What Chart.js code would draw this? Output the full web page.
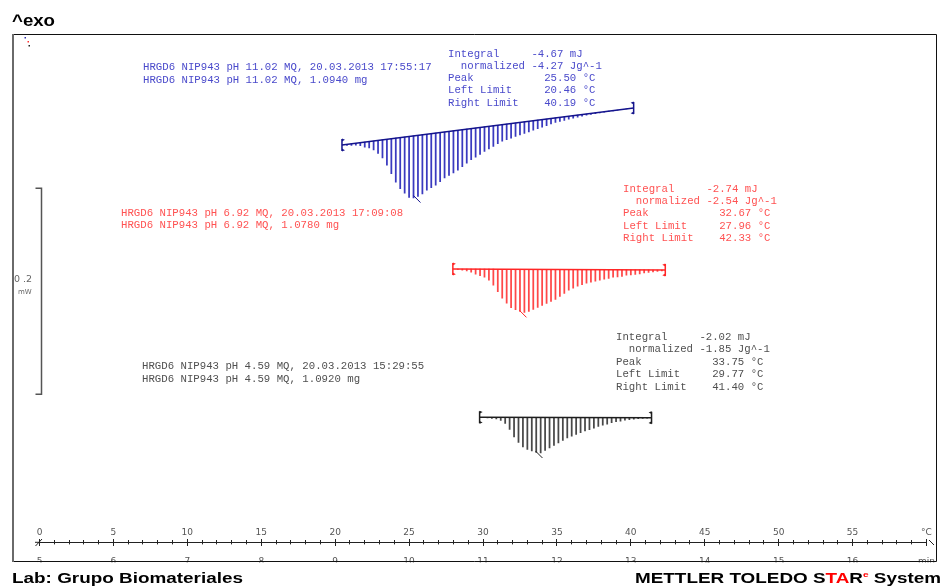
<!DOCTYPE html>
<html>
<head>
<meta charset="utf-8">
<script src="https://cdn.jsdelivr.net/npm/chart.js@4.4.0/dist/chart.umd.min.js"></script>
<style>
  html, body { margin: 0; padding: 0; background: #fff; overflow: hidden; }
  #wrap { position: relative; width: 941px; height: 588px; }
</style>
</head>
<body>
<div id="wrap"><canvas id="dsc" width="941" height="588"></canvas></div>
<script>
// ---- Axis labels -----------------------------------------------------------
const tempTickLabels = ['0', '5', '10', '15', '20', '25', '30', '35', '40', '45', '50', '55', '°C'];
const timeTickLabels = ['5', '6', '7', '8', '9', '10', '11', '12', '13', '14', '15', '16', 'min'];

// ---- Runs (blue = pH 11.02, red = pH 6.92, black = pH 4.59) ----------------
const sampleNames = ['HRGD6 NIP943 pH 11.02 MQ', 'HRGD6 NIP943 pH 6.92 MQ', 'HRGD6 NIP943 pH 4.59 MQ'];
const runStamps = ['20.03.2013 17:55:17', '20.03.2013 17:09:08', '20.03.2013 15:29:55'];
const sampleMassMg = [1.0940, 1.0780, 1.0920];

// ---- Peak evaluation results ------------------------------------------------
const integralMj = [-4.67, -2.74, -2.02];
const normalizedJg = [-4.27, -2.54, -1.85];
const peakC = [25.50, 32.67, 33.75];
const leftLimitC = [20.46, 27.96, 29.77];
const rightLimitC = [40.19, 42.33, 41.40];

// Heat flow of the integration baseline at the left / right limit (mW, curves offset)
const baselineLeftMw = [-0.1068, -0.2272, -0.3712];
const baselineRightMw = [-0.0709, -0.2282, -0.3716];

// ---- Integrated peak areas: signal below baseline (mW) at each hatch ---------
const blueTempC = [20.8, 21.1, 21.4, 21.7, 22.0, 22.3, 22.6, 22.9, 23.2, 23.5,
  23.8, 24.1, 24.4, 24.7, 25.0, 25.3, 25.6, 25.9, 26.2, 26.5,
  26.8, 27.1, 27.4, 27.7, 28.0, 28.3, 28.6, 28.9, 29.2, 29.5,
  29.8, 30.1, 30.4, 30.7, 31.0, 31.3, 31.6, 31.9, 32.2, 32.5,
  32.8, 33.1, 33.4, 33.7, 34.0, 34.3, 34.6, 34.9, 35.2, 35.5,
  35.8, 36.1, 36.4, 36.7, 37.0, 37.3, 37.6, 37.9, 38.2, 38.5,
  38.8, 39.1, 39.4, 39.7];
const blueDepthMw = [0.0010, 0.0015, 0.0019, 0.0029, 0.0049, 0.0063, 0.0087, 0.0126, 0.0175, 0.0252,
  0.0340, 0.0427, 0.0495, 0.0544, 0.0592, 0.0602, 0.0592, 0.0573, 0.0544, 0.0524,
  0.0505, 0.0476, 0.0447, 0.0427, 0.0408, 0.0388, 0.0359, 0.0330, 0.0301, 0.0282,
  0.0262, 0.0238, 0.0218, 0.0199, 0.0180, 0.0160, 0.0150, 0.0141, 0.0131, 0.0121,
  0.0112, 0.0102, 0.0092, 0.0083, 0.0073, 0.0063, 0.0053, 0.0044, 0.0039, 0.0034,
  0.0029, 0.0024, 0.0019, 0.0015, 0.0012, 0.0010, 0.0008, 0.0006, 0.0005, 0.0004,
  0.0003, 0.0002, 0.0001, 0.0001];

const redTempC = [28.3, 28.6, 28.9, 29.2, 29.5, 29.8, 30.1, 30.4, 30.7, 31.0,
  31.3, 31.6, 31.9, 32.2, 32.5, 32.8, 33.1, 33.4, 33.7, 34.0,
  34.3, 34.6, 34.9, 35.2, 35.5, 35.8, 36.1, 36.4, 36.7, 37.0,
  37.3, 37.6, 37.9, 38.2, 38.5, 38.8, 39.1, 39.4, 39.7, 40.0,
  40.3, 40.6, 40.9, 41.2, 41.5, 41.8, 42.1];
const redDepthMw = [0.0005, 0.0010, 0.0019, 0.0029, 0.0049, 0.0063, 0.0078, 0.0107, 0.0155, 0.0218,
  0.0282, 0.0330, 0.0374, 0.0393, 0.0408, 0.0418, 0.0408, 0.0388, 0.0369, 0.0350,
  0.0330, 0.0311, 0.0291, 0.0262, 0.0233, 0.0199, 0.0180, 0.0160, 0.0146, 0.0131,
  0.0121, 0.0112, 0.0102, 0.0092, 0.0083, 0.0073, 0.0068, 0.0063, 0.0053, 0.0049,
  0.0044, 0.0039, 0.0029, 0.0024, 0.0019, 0.0015, 0.0010];

const blackTempC = [30.0, 30.3, 30.6, 30.9, 31.2, 31.5, 31.8, 32.1, 32.4, 32.7,
  33.0, 33.3, 33.6, 33.9, 34.2, 34.5, 34.8, 35.1, 35.4, 35.7,
  36.0, 36.3, 36.6, 36.9, 37.2, 37.5, 37.8, 38.1, 38.4, 38.7,
  39.0, 39.3, 39.6, 39.9, 40.2, 40.5, 40.8, 41.1];
const blackDepthMw = [0.0003, 0.0005, 0.0010, 0.0015, 0.0029, 0.0058, 0.0117, 0.0189, 0.0243, 0.0286,
  0.0311, 0.0325, 0.0340, 0.0345, 0.0320, 0.0296, 0.0272, 0.0248, 0.0223, 0.0199,
  0.0180, 0.0165, 0.0146, 0.0131, 0.0117, 0.0102, 0.0087, 0.0073, 0.0063, 0.0049,
  0.0039, 0.0034, 0.0024, 0.0019, 0.0015, 0.0010, 0.0007, 0.0004];

// Length of the heat-flow scale bar (mW) and where its upper end sits
const scaleBarMw = 0.2;
const scaleBarTopMw = -0.1488;

// ---- Styling -----------------------------------------------------------------
const hatchColors = ['#3a3abf', '#ff4848', '#484848'];
const baseColors = ['#14148c', '#ff2626', '#1e1e1e'];
const textColors = ['#4a4acb', '#ff5252', '#505050'];
const MONO = '10.7px "Liberation Mono", "DejaVu Sans Mono", monospace';

// Plot frame in canvas pixels; the heat-flow axis is hidden and only used for placement
const AREA_TOP = 35, AREA_BOTTOM = 562;
const Y_MAX = 0, Y_MIN = -0.5117;
const mwAtPx = p => Y_MAX - (p - AREA_TOP) / (AREA_BOTTOM - AREA_TOP) * (Y_MAX - Y_MIN);

const temps = [blueTempC, redTempC, blackTempC];
const depths = [blueDepthMw, redDepthMw, blackDepthMw];

function baselineAt(k, t) {
  const slope = (baselineRightMw[k] - baselineLeftMw[k]) / (rightLimitC[k] - leftLimitC[k]);
  return baselineLeftMw[k] + slope * (t - leftLimitC[k]);
}

function hatchData(k) {
  return temps[k].map((t, i) => {
    const b = baselineAt(k, t);
    return { x: t, y: [b, b - depths[k][i]] };
  });
}

const datasets = [];
for (let k = 0; k < 3; k++) {
  datasets.push({
    type: 'bar',
    data: hatchData(k),
    backgroundColor: hatchColors[k],
    borderWidth: 0,
    barThickness: 1.1,
    grouped: false,
    order: 2
  });
  datasets.push({
    type: 'line',
    data: [{ x: leftLimitC[k], y: baselineLeftMw[k] }, { x: rightLimitC[k], y: baselineRightMw[k] }],
    borderColor: baseColors[k],
    borderWidth: 1.5,
    tension: 0,
    pointStyle: 'line',
    rotation: 90,
    pointRadius: 6,
    pointBorderWidth: 1.5,
    pointBorderColor: baseColors[k],
    pointBackgroundColor: baseColors[k],
    order: 1
  });
}

const tickFont = { family: 'DejaVu Sans', size: 9 };
const axisPx = 542.3;

function stretchedText(ctx, text, x, yBase, font, width, color) {
  ctx.save();
  ctx.font = font;
  const w = ctx.measureText(text).width;
  ctx.translate(x, yBase);
  ctx.scale(width / w, 1);
  ctx.fillStyle = color;
  ctx.textBaseline = 'alphabetic';
  ctx.textAlign = 'left';
  ctx.fillText(text, 0, 0);
  ctx.restore();
}

const infoBlocks = [
  { x: 448, y: 54.3, dy: 12.1 },
  { x: 623, y: 189, dy: 12.3 },
  { x: 616, y: 337, dy: 12.5 }
];
const sampleBlocks = [
  { x: 143, y: 67, dy: 13 },
  { x: 121, y: 213, dy: 12.5 },
  { x: 142, y: 366, dy: 12.8 }
];

const decor = {
  id: 'decor',
  afterDraw(chart) {
    const { ctx, scales: { x, y } } = chart;
    ctx.save();

    // limit markers at both ends of each baseline, peak tick at the peak temperature
    for (let k = 0; k < 3; k++) {
      ctx.fillStyle = baseColors[k];
      const lx = x.getPixelForValue(leftLimitC[k]), ly = y.getPixelForValue(baselineLeftMw[k]);
      const rx = x.getPixelForValue(rightLimitC[k]), ry = y.getPixelForValue(baselineRightMw[k]);
      [[lx, ly, 1], [rx, ry, -1]].forEach(([px, py, s]) => {
        [-1, 1].forEach(v => {
          ctx.beginPath();
          ctx.moveTo(px, py + v * 6.5);
          ctx.lineTo(px + s * 3, py + v * 5.2);
          ctx.lineTo(px, py + v * 3.6);
          ctx.closePath();
          ctx.fill();
        });
      });
      const pkx = x.getPixelForValue(peakC[k]);
      const pky = y.getPixelForValue(baselineAt(k, peakC[k]) - Math.max(...depths[k]));
      ctx.strokeStyle = baseColors[k];
      ctx.lineWidth = 1;
      ctx.beginPath();
      ctx.moveTo(pkx - 3, pky - 2);
      ctx.lineTo(pkx + 4, pky + 5);
      ctx.stroke();
    }

    // axis end marks
    ctx.strokeStyle = '#222';
    ctx.lineWidth = 1;
    ctx.beginPath();
    ctx.moveTo(35.5, 546); ctx.lineTo(42, 539);
    ctx.moveTo(35, axisPx); ctx.lineTo(39, axisPx);
    ctx.moveTo(929, 540); ctx.lineTo(934, 545);
    ctx.stroke();

    // strip under the frame
    ctx.fillStyle = '#fff';
    ctx.fillRect(0, 562.5, 941, 30);

    // frame
    ctx.strokeStyle = '#111';
    ctx.lineWidth = 1;
    ctx.beginPath();
    ctx.moveTo(13, 34.5); ctx.lineTo(936.5, 34.5);
    ctx.lineTo(936.5, 561.5); ctx.lineTo(13, 561.5);
    ctx.stroke();
    ctx.strokeStyle = '#6a6a6a';
    ctx.lineWidth = 2;
    ctx.beginPath();
    ctx.moveTo(13, 34); ctx.lineTo(13, 562);
    ctx.stroke();

    // tiny curve markers in the corner
    ctx.fillStyle = '#3030b0'; ctx.fillRect(24.5, 37, 1.5, 1.5);
    ctx.fillStyle = '#ff3030'; ctx.fillRect(27.5, 41, 1.5, 1.5);
    ctx.fillStyle = '#222'; ctx.fillRect(28.5, 45, 1.5, 1.5);

    // heat-flow scale bar
    const sbTop = y.getPixelForValue(scaleBarTopMw);
    const sbBot = y.getPixelForValue(scaleBarTopMw - scaleBarMw);
    ctx.strokeStyle = '#555';
    ctx.lineWidth = 1.5;
    ctx.beginPath();
    ctx.moveTo(35.5, sbTop); ctx.lineTo(41.5, sbTop); ctx.lineTo(41.5, sbBot); ctx.lineTo(35.5, sbBot);
    ctx.stroke();
    ctx.fillStyle = '#666';
    ctx.textAlign = 'left';
    ctx.textBaseline = 'middle';
    ctx.font = '9.5px "DejaVu Sans"';
    ctx.fillText(scaleBarMw.toFixed(1).replace('.', ' .'), 14, sbTop + 91);
    ctx.font = '7px "DejaVu Sans"';
    ctx.fillText('mW', 18, sbTop + 104);

    // run descriptions and evaluation tables
    ctx.font = MONO;
    ctx.textBaseline = 'middle';
    for (let k = 0; k < 3; k++) {
      ctx.fillStyle = textColors[k];
      const s = sampleBlocks[k];
      ctx.fillText(sampleNames[k] + ', ' + runStamps[k], s.x, s.y);
      ctx.fillText(sampleNames[k] + ', ' + sampleMassMg[k].toFixed(4) + ' mg', s.x, s.y + s.dy);
      const b = infoBlocks[k];
      const rows = [
        'Integral     ' + integralMj[k].toFixed(2) + ' mJ',
        '  normalized ' + normalizedJg[k].toFixed(2) + ' Jg^-1',
        'Peak           ' + peakC[k].toFixed(2) + ' °C',
        'Left Limit     ' + leftLimitC[k].toFixed(2) + ' °C',
        'Right Limit    ' + rightLimitC[k].toFixed(2) + ' °C'
      ];
      rows.forEach((r, i) => ctx.fillText(r, b.x, b.y + i * b.dy));
    }

    // header and footer
    stretchedText(ctx, '^exo', 12, 26, 'bold 16px "Liberation Sans", Arial', 43, '#000');
    stretchedText(ctx, 'Lab: Grupo Biomateriales', 12, 583, 'bold 15px "Liberation Sans", Arial', 231, '#000');

    const fFont = 'bold 15px "Liberation Sans", Arial';
    ctx.font = fFont;
    const sx = 178 / ctx.measureText('METTLER TOLEDO ').width;
    let cx = 635;
    const piece = (txt, color, font, dy) => {
      ctx.save();
      ctx.font = font;
      const w = ctx.measureText(txt).width * sx;
      ctx.translate(cx, 583 + dy);
      ctx.scale(sx, 1);
      ctx.fillStyle = color;
      ctx.textBaseline = 'alphabetic';
      ctx.textAlign = 'left';
      ctx.fillText(txt, 0, 0);
      ctx.restore();
      cx += w;
    };
    piece('METTLER TOLEDO S', '#000', fFont, 0);
    piece('TA', '#ff0000', fFont, 0);
    piece('R', '#000', fFont, 0);
    piece('e', '#ff0000', 'bold 8px "Liberation Sans", Arial', -6);
    piece(' System', '#000', fFont, 0);

    ctx.restore();
  }
};

new Chart(document.getElementById('dsc'), {
  type: 'bar',
  data: { datasets },
  options: {
    responsive: false,
    animation: false,
    devicePixelRatio: 1,
    layout: { padding: { left: 39.5, right: 9.5, top: AREA_TOP, bottom: 588 - AREA_BOTTOM } },
    plugins: { legend: { display: false }, tooltip: { enabled: false } },
    scales: {
      y: { type: 'linear', min: Y_MIN, max: Y_MAX, display: false },
      x: {
        type: 'linear', min: 0, max: 60, offset: false,
        position: { y: mwAtPx(axisPx) },
        ticks: {
          stepSize: 5, autoSkip: false, maxRotation: 0, padding: -23.3,
          color: '#555', font: tickFont,
          callback: (v, i) => tempTickLabels[i]
        },
        grid: { display: false, offset: false },
        border: { display: true, color: '#222', width: 1 }
      },
      xTime: {
        type: 'linear', axis: 'x', min: 0, max: 60, offset: false,
        position: { y: mwAtPx(axisPx) },
        ticks: {
          stepSize: 5, autoSkip: false, maxRotation: 0, padding: 6,
          color: '#555', font: tickFont,
          callback: (v, i) => timeTickLabels[i]
        },
        grid: { display: false, offset: false },
        border: { display: false }
      },
      xMajor: {
        type: 'linear', axis: 'x', min: 0, max: 60, offset: false,
        position: { y: mwAtPx(axisPx - 3.5) },
        ticks: { stepSize: 5, autoSkip: false, display: false },
        grid: { display: true, drawOnChartArea: false, drawTicks: true, tickLength: 7, color: '#222', lineWidth: 1, offset: false },
        border: { display: false }
      },
      xMinor: {
        type: 'linear', axis: 'x', min: 0, max: 60, offset: false,
        position: { y: mwAtPx(axisPx - 2.2) },
        ticks: { stepSize: 1, autoSkip: false, display: false },
        grid: { display: true, drawOnChartArea: false, drawTicks: true, tickLength: 4.4, color: '#222', lineWidth: 1, offset: false },
        border: { display: false }
      }
    }
  },
  plugins: [decor]
});
</script>
</body>
</html>
